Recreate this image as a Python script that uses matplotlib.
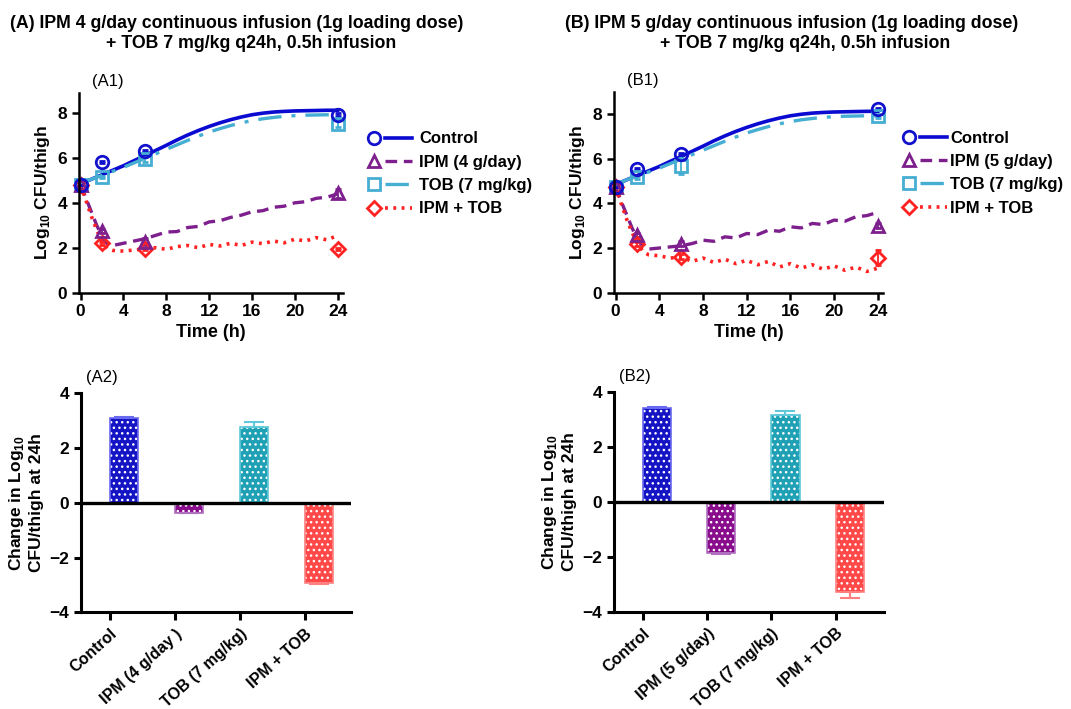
import matplotlib.pyplot as plt
from matplotlib.lines import Line2D
from matplotlib.legend_handler import HandlerBase
import numpy as np

plt.rcParams['font.family'] = ['Liberation Sans', 'DejaVu Sans']
plt.rcParams['mathtext.fontset'] = 'custom'
plt.rcParams['mathtext.rm'] = 'Liberation Sans'
plt.rcParams['mathtext.bf'] = 'Liberation Sans:bold'
plt.rcParams['hatch.linewidth'] = 1.0

# ---- time-kill data (observed) ----
obs_t = [0, 2, 6, 24]
A_ctrl = [4.8, 5.82, 6.3, 7.93]
A_ipm = [4.8, 2.74, 2.27, 4.42]
A_tob = [4.8, 5.16, 5.93, 7.53]
A_combo = [4.8, 2.19, 1.94, 1.94]
A_ipm_err = [0, 0.1, 0.15, 0.2]
A_tob_err = [0, 0.05, 0.1, 0.15]
A_ctrl_err = [0, 0.05, 0.05, 0.05]
A_combo_err = [0, 0.05, 0.05, 0.05]

B_ctrl = [4.75, 5.54, 6.21, 8.22]
B_ipm = [4.75, 2.58, 2.2, 3.0]
B_tob = [4.75, 5.16, 5.67, 7.92]
B_combo = [4.75, 2.18, 1.61, 1.57]
B_ipm_err = [0, 0.1, 0.1, 0.1]
B_tob_err = [0, 0.05, 0.35, 0.1]
B_ctrl_err = [0, 0.05, 0.05, 0.05]
B_combo_err = [0, 0.1, 0.1, 0.35]

# ---- model predictions ----
sim_t = [0, 0.5, 1, 1.5, 2, 2.5, 3, 4, 5, 6, 7, 8, 9, 10, 11, 12, 13, 14, 15, 16,
         17, 18, 19, 20, 21, 22, 23, 24]
A_ctrl_sim = [4.85, 4.95, 5.05, 5.15, 5.25, 5.35, 5.45, 5.65, 5.88, 6.1, 6.33, 6.56, 6.8,
              7.02, 7.22, 7.4, 7.56, 7.7, 7.82, 7.92, 7.99, 8.04, 8.07, 8.09, 8.1, 8.11,
              8.12, 8.12]
A_tob_sim = [4.85, 4.95, 5.05, 5.14, 5.22, 5.31, 5.4, 5.58, 5.78, 5.98, 6.18, 6.38, 6.58,
             6.78, 6.97, 7.15, 7.3, 7.44, 7.56, 7.66, 7.74, 7.8, 7.85, 7.88, 7.9, 7.91,
             7.92, 7.92]
A_ipm_sim = [4.8, 4.2, 3.6, 3.0, 2.5, 2.15, 2.1, 2.2, 2.3, 2.4, 2.55, 2.7, 2.72, 2.9,
             2.95, 3.15, 3.2, 3.35, 3.45, 3.6, 3.65, 3.8, 3.85, 4.0, 4.05, 4.2, 4.25, 4.4]
A_combo_sim = [4.8, 4.1, 3.4, 2.8, 2.25, 1.95, 1.88, 1.85, 1.9, 1.95, 2.0, 1.93, 2.05,
               2.1, 2.0, 2.15, 2.08, 2.2, 2.1, 2.25, 2.18, 2.3, 2.22, 2.38, 2.3, 2.45,
               2.35, 2.55]
B_ctrl_sim = A_ctrl_sim
B_tob_sim = [4.85, 4.95, 5.05, 5.14, 5.22, 5.31, 5.4, 5.58, 5.78, 5.98, 6.18, 6.38, 6.58,
             6.78, 6.97, 7.15, 7.3, 7.44, 7.56, 7.66, 7.74, 7.8, 7.85, 7.88, 7.9, 7.91,
             7.92, 7.92]
B_ipm_sim = [4.75, 4.1, 3.5, 2.9, 2.4, 2.05, 1.95, 2.0, 2.05, 2.1, 2.2, 2.35, 2.3, 2.5,
             2.45, 2.65, 2.6, 2.8, 2.75, 2.95, 2.9, 3.1, 3.05, 3.25, 3.2, 3.4, 3.45, 3.6]
B_combo_sim = [4.75, 4.0, 3.3, 2.7, 2.2, 1.85, 1.7, 1.65, 1.55, 1.6, 1.4, 1.55, 1.35,
               1.5, 1.3, 1.45, 1.25, 1.4, 1.15, 1.3, 1.1, 1.25, 1.05, 1.2, 1.0, 1.15,
               0.95, 1.1]

# ---- change at 24 h ----
bar_labels_A = ['Control', 'IPM (4 g/day )', 'TOB (7 mg/kg)', 'IPM + TOB']
bar_labels_B = ['Control', 'IPM (5 g/day)', 'TOB (7 mg/kg)', 'IPM + TOB']
A_change = [3.08, -0.37, 2.78, -2.92]
A_change_err = [0.06, 0.02, 0.17, 0.05]
B_change = [3.44, -1.85, 3.19, -3.29]
B_change_err = [0.03, 0.03, 0.13, 0.22]

c_ctrl, c_ipm, c_tob, c_combo = '#1212cc', '#7d1f8c', '#45aed2', '#ff2222'
bar_colors = ['#1414c4', '#880c8c', '#1fa0b4', '#ff4848']
edge_colors = ['#6a6af0', '#b070c0', '#60c8d8', '#ff8080']

styles = [
    dict(color='#0a0ad0', lw=2.6, ls='-'),
    dict(color=c_ipm, lw=2.4, dashes=(3.5, 2)),
    dict(color=c_tob, lw=2.4, dashes=(7, 3, 1.2, 3)),
    dict(color=c_combo, lw=2.6, dashes=(0.8, 1.5)),
]
markers = [('o', c_ctrl, 9), ('^', c_ipm, 9), ('s', c_tob, 9), ('D', c_combo, 7.5)]


class MarkerThenLine(HandlerBase):
    # marker on the left, gap, then the line segment
    def __init__(self, marker, line_kw):
        super().__init__()
        self.marker = marker
        self.line_kw = line_kw

    def create_artists(self, legend, orig_handle, xdescent, ydescent, width, height,
                       fontsize, trans):
        m, c, ms = self.marker
        y = height / 2 - ydescent
        mk = Line2D([-xdescent + 4], [y], ls='none', marker=m, mfc='none', mec=c,
                    mew=2, ms=ms, transform=trans)
        ln = Line2D([-xdescent + 12, -xdescent + width], [y, y], transform=trans,
                    **self.line_kw)
        return [mk, ln]


fig = plt.figure(figsize=(10.71, 7.09), dpi=100)


def timekill(ax, ctrl, ipm, tob, combo, errs, sims, ipm_lab, ytop, tag, leg_x, textpad):
    for s, st in zip(sims, styles):
        ax.plot(sim_t, s, **st)
    obs = [ctrl, ipm, tob, combo]
    for i in [3, 2, 1, 0]:
        m, c, ms = markers[i]
        ax.errorbar(obs_t, obs[i], yerr=errs[i], ls='none', marker=m, color=c, ms=ms,
                    mew=2, mfc='none', capsize=2.5, elinewidth=1.3, clip_on=False)
    ax.set_xlim(-0.15, 24.5)
    ax.set_ylim(0, ytop)
    ax.set_xticks(range(0, 25, 4))
    ax.set_yticks(range(0, 9, 2))
    for s in ['top', 'right']:
        ax.spines[s].set_visible(False)
    for s in ['left', 'bottom']:
        ax.spines[s].set_linewidth(1.8)
    ax.tick_params(width=1.8, length=5, labelsize=12.5)
    for lab in ax.get_xticklabels() + ax.get_yticklabels():
        lab.set_fontweight('bold')
    ax.set_xlabel('Time (h)', fontsize=13, fontweight='bold', labelpad=3)
    ax.set_ylabel(r'Log$_{\mathbf{10}}$ CFU/thigh', fontsize=12.5, fontweight='bold', labelpad=4)
    ax.text(0.05, 1.02, tag, transform=ax.transAxes, fontsize=12, ha='left', va='bottom')
    handles = [Line2D([], []) for _ in range(4)]
    hmap = {h: MarkerThenLine(markers[i], styles[i]) for i, h in enumerate(handles)}
    ax.legend(handles, ['Control', ipm_lab, 'TOB (7 mg/kg)', 'IPM + TOB'],
              handler_map=hmap, loc='upper left', bbox_to_anchor=(leg_x, 0.84),
              frameon=False, handlelength=2.6, handletextpad=textpad,
              labelspacing=0.5, borderaxespad=0, prop=dict(size=12, weight='bold'))


def change_bars(ax, vals, errs, labels, xr, tag):
    x = np.arange(len(vals))
    ax.bar(x, vals, width=0.44, align='edge', color=bar_colors, edgecolor='white',
           hatch='...', linewidth=0, zorder=2)
    ax.bar(x, vals, width=0.44, align='edge', color='none', edgecolor=edge_colors,
           linewidth=1.2, zorder=3)
    for xi, v, e, c in zip(x, vals, errs, edge_colors):
        ax.errorbar(xi + 0.22, v, yerr=[[0], [e]] if v > 0 else [[e], [0]], color=c,
                    capsize=7, elinewidth=1.5, capthick=1.5, zorder=4)
    ax.axhline(0, color='black', lw=2.4, zorder=5)
    ax.set_xlim(*xr)
    ax.set_ylim(-4, 4)
    ax.set_yticks([-4, -2, 0, 2, 4])
    ax.set_xticks(x)
    ax.set_xticklabels(labels, rotation=42, ha='right', rotation_mode='anchor',
                       fontsize=11.5, fontweight='bold')
    for s in ['top', 'right']:
        ax.spines[s].set_visible(False)
    for s in ['left', 'bottom']:
        ax.spines[s].set_linewidth(2.2)
    ax.tick_params(axis='y', width=2.2, length=5, labelsize=12.5)
    ax.tick_params(axis='x', width=2.2, length=6, pad=4)
    for lab in ax.get_yticklabels():
        lab.set_fontweight('bold')
    ax.set_ylabel('Change in Log$_{\\mathbf{10}}$\nCFU/thigh at 24h', fontsize=12.5,
                  fontweight='bold', labelpad=4)
    ax.text(0.02, 1.04, tag, transform=ax.transAxes, fontsize=12, ha='left', va='bottom')


axA1 = fig.add_axes([0.0738, 0.5872, 0.2465, 0.282])
axB1 = fig.add_axes([0.5733, 0.5872, 0.2514, 0.2835])
axA2 = fig.add_axes([0.0756, 0.1364, 0.2518, 0.3089])
axB2 = fig.add_axes([0.5733, 0.1372, 0.2524, 0.3094])

timekill(axA1, A_ctrl, A_ipm, A_tob, A_combo,
         [A_ctrl_err, A_ipm_err, A_tob_err, A_combo_err],
         [A_ctrl_sim, A_ipm_sim, A_tob_sim, A_combo_sim], 'IPM (4 g/day)', 8.9, '(A1)',
         1.07, 0.45)
timekill(axB1, B_ctrl, B_ipm, B_tob, B_combo,
         [B_ctrl_err, B_ipm_err, B_tob_err, B_combo_err],
         [B_ctrl_sim, B_ipm_sim, B_tob_sim, B_combo_sim], 'IPM (5 g/day)', 9.0, '(B1)',
         1.05, 0.2)
change_bars(axA2, A_change, A_change_err, bar_labels_A, (-0.44, 3.71), '(A2)')
change_bars(axB2, B_change, B_change_err, bar_labels_B, (-0.45, 3.76), '(B2)')

title_kw = dict(ha='center', fontsize=12.8, fontweight='bold')
fig.text(0.2208, 0.96, '(A) IPM 4 g/day continuous infusion (1g loading dose)', **title_kw)
fig.text(0.2344, 0.932, '+ TOB 7 mg/kg q24h, 0.5h infusion', **title_kw)
fig.text(0.739, 0.96, '(B) IPM 5 g/day continuous infusion (1g loading dose)', **title_kw)
fig.text(0.752, 0.932, '+ TOB 7 mg/kg q24h, 0.5h infusion', **title_kw)

fig.savefig('out.png', dpi=100)
